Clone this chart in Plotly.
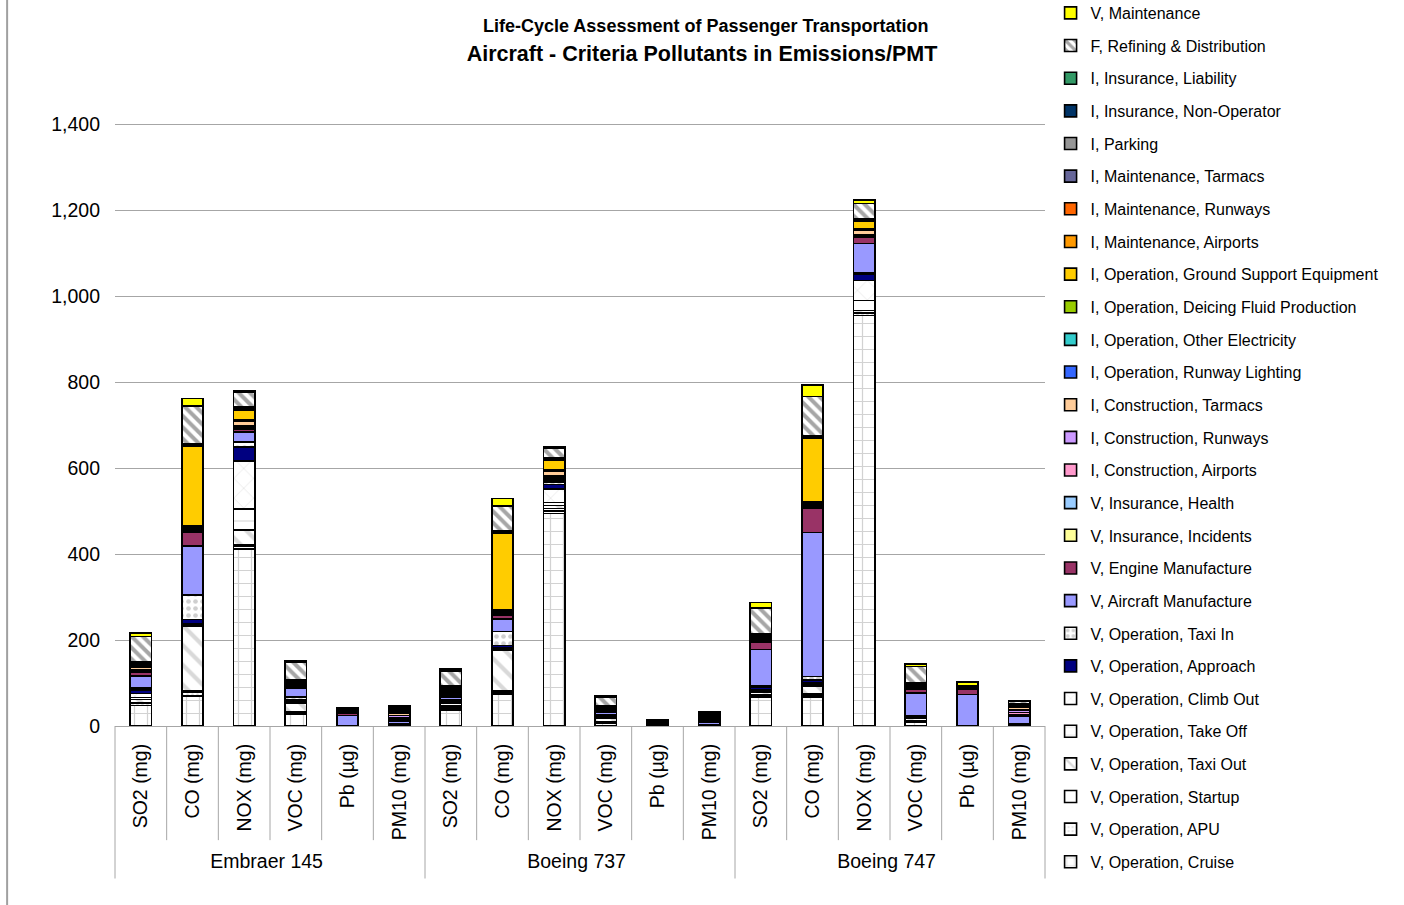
import plotly.graph_objects as go

aircraft = ["Embraer 145", "Boeing 737", "Boeing 747"]
pollutants = ["SO2 (mg)", "CO (mg)", "NOX (mg)", "VOC (mg)", "Pb (µg)", "PM10 (mg)"]

# values per series, ordered: Embraer 145 (6 pollutants), Boeing 737 (6), Boeing 747 (6)
cruise = [48, 70, 412, 28, 0, 2, 36, 74, 494, 6, 0, 2, 68, 68, 955, 10, 0, 3]
apu = [4, 8, 5, 3, 0, 0.5, 2, 5, 6, 2, 0, 0.3, 3, 4, 4, 2, 0, 0.5]
startup = [2, 4, 4, 2, 0, 0.3, 1, 4, 6, 1, 0, 0.2, 2, 3, 3, 1, 0, 0.3]
taxi_out = [8, 149, 35, 20, 0, 0.5, 5, 93, 7, 8, 0, 0.3, 5, 18, 4, 4, 0, 0.5]
take_off = [4, 3, 48, 2, 0, 0.3, 3, 3, 7, 1, 0, 0.2, 3, 4, 24, 1, 0, 0.3]
climb_out = [10, 3, 112, 3, 0, 0.5, 6, 3, 31, 2, 0, 0.3, 4, 4, 46, 1, 0, 0.5]
approach = [8, 11, 33, 3, 0, 0.5, 5, 5, 11, 2, 0, 0.3, 6, 6, 14, 3, 0, 0.5]
taxi_in = [4, 56, 12, 6, 0, 0.3, 3, 33, 5, 3, 0, 0.2, 2, 8, 3, 2, 0, 0.3]
aircraft_manuf = [28, 114, 23, 21, 24, 7, 6, 29, 5, 6, 5, 4, 85, 335, 69, 53, 73, 17]
engine_manuf = [10, 33, 6, 3, 6, 3, 3, 8, 3, 2, 2, 2, 17, 57, 14, 8, 12, 3]
ins_incidents = [0.5, 1, 1, 0.5, 0.2, 0.3, 0.5, 1, 1, 0.5, 0.2, 0.3, 0.5, 1, 1, 0.5, 0.2, 0.3]
ins_health = [1, 2, 2, 1, 0.3, 0.5, 1, 2, 2, 1, 0.3, 0.5, 1, 2, 2, 1, 0.3, 0.5]
constr_airports = [2, 3, 2, 2, 1, 4, 2, 3, 2, 2, 0.5, 3, 2, 3, 2, 2, 1, 5]
constr_runways = [1, 2, 2, 2, 1, 5, 1, 2, 2, 2, 0.5, 3, 1, 2, 2, 2, 1, 6]
constr_tarmacs = [6, 4, 12, 3, 1, 5, 5, 3, 10, 2, 0.5, 3, 4, 3, 10, 2, 1, 5]
runway_lighting = [3, 1, 2, 0.5, 0.3, 2, 3, 1, 2, 0.5, 0.3, 2, 2, 1, 2, 0.5, 0.3, 2]
other_electricity = [2, 1, 1, 0.3, 0.2, 1, 2, 1, 1, 0.3, 0.2, 1, 1, 1, 1, 0.3, 0.2, 1]
deicing = [0.5, 0.5, 0.5, 0.3, 0.1, 0.2, 0.5, 0.5, 0.5, 0.3, 0.1, 0.2, 0.5, 0.5, 0.5, 0.3, 0.1, 0.2]
gse = [3, 185, 23, 4, 1, 3, 3, 177, 22, 3, 1, 2, 3, 148, 17, 3, 1, 3]
maint_airports = [1, 1, 1, 0.5, 0.2, 0.5, 1, 1, 1, 0.5, 0.2, 0.5, 1, 1, 1, 0.5, 0.2, 0.5]
maint_runways = [0.5, 0.5, 0.5, 0.3, 0.1, 0.3, 0.5, 0.5, 0.5, 0.3, 0.1, 0.3, 0.5, 0.5, 0.5, 0.3, 0.1, 0.3]
maint_tarmacs = [0.5, 0.5, 0.5, 0.3, 0.1, 0.3, 0.5, 0.5, 0.5, 0.3, 0.1, 0.3, 0.5, 0.5, 0.5, 0.3, 0.1, 0.3]
parking = [1, 2, 2, 1, 0.5, 1, 1, 2, 2, 1, 0.5, 1, 1, 2, 2, 1, 0.5, 1]
ins_non_operator = [1, 1, 1, 0.5, 0.2, 0.5, 1, 1, 1, 0.5, 0.2, 0.5, 1, 1, 1, 0.5, 0.2, 0.5]
ins_liability = [1, 1, 1, 0.5, 0.2, 0.5, 1, 1, 1, 0.5, 0.2, 0.5, 1, 1, 1, 0.5, 0.2, 0.5]
refining = [58, 88, 35, 40, 3, 5, 35, 58, 22, 20, 2, 4, 60, 92, 36, 39, 2, 5]
maintenance = [8, 17, 4, 4, 2, 2, 4, 18, 3, 2, 1, 1, 12, 27, 8, 5, 9, 2]

series = [
    ("V, Operation, Cruise", cruise),
    ("V, Operation, APU", apu),
    ("V, Operation, Startup", startup),
    ("V, Operation, Taxi Out", taxi_out),
    ("V, Operation, Take Off", take_off),
    ("V, Operation, Climb Out", climb_out),
    ("V, Operation, Approach", approach),
    ("V, Operation, Taxi In", taxi_in),
    ("V, Aircraft Manufacture", aircraft_manuf),
    ("V, Engine Manufacture", engine_manuf),
    ("V, Insurance, Incidents", ins_incidents),
    ("V, Insurance, Health", ins_health),
    ("I, Construction, Airports", constr_airports),
    ("I, Construction, Runways", constr_runways),
    ("I, Construction, Tarmacs", constr_tarmacs),
    ("I, Operation, Runway Lighting", runway_lighting),
    ("I, Operation, Other Electricity", other_electricity),
    ("I, Operation, Deicing Fluid Production", deicing),
    ("I, Operation, Ground Support Equipment", gse),
    ("I, Maintenance, Airports", maint_airports),
    ("I, Maintenance, Runways", maint_runways),
    ("I, Maintenance, Tarmacs", maint_tarmacs),
    ("I, Parking", parking),
    ("I, Insurance, Non-Operator", ins_non_operator),
    ("I, Insurance, Liability", ins_liability),
    ("F, Refining & Distribution", refining),
    ("V, Maintenance", maintenance),
]

solid_colors = {
    "V, Operation, Approach": "#000080",
    "V, Aircraft Manufacture": "#9999FF",
    "V, Engine Manufacture": "#993366",
    "V, Insurance, Incidents": "#FFFF99",
    "V, Insurance, Health": "#99CCFF",
    "I, Construction, Airports": "#FF99CC",
    "I, Construction, Runways": "#CC99FF",
    "I, Construction, Tarmacs": "#FFCC99",
    "I, Operation, Runway Lighting": "#3366FF",
    "I, Operation, Other Electricity": "#33CCCC",
    "I, Operation, Deicing Fluid Production": "#99CC00",
    "I, Operation, Ground Support Equipment": "#FFCC00",
    "I, Maintenance, Airports": "#FF9900",
    "I, Maintenance, Runways": "#FF6600",
    "I, Maintenance, Tarmacs": "#666699",
    "I, Parking": "#969696",
    "I, Insurance, Non-Operator": "#003366",
    "I, Insurance, Liability": "#339966",
    "V, Maintenance": "#FFFF00",
}

patterns = {
    "V, Operation, Cruise": dict(shape="+", fgcolor="#A6A6A6", bgcolor="white", size=13, solidity=0.18),
    "V, Operation, APU": dict(shape=".", fgcolor="#BBBBBB", bgcolor="white", size=5, solidity=0.2),
    "V, Operation, Startup": dict(shape="", fgcolor="white", bgcolor="white"),
    "V, Operation, Taxi Out": dict(shape="\\", fgcolor="#B4B4B4", bgcolor="white", size=14, solidity=0.3),
    "V, Operation, Take Off": dict(shape="-", fgcolor="#C8C8C8", bgcolor="white", size=14, solidity=0.12),
    "V, Operation, Climb Out": dict(shape="x", fgcolor="#C8C8C8", bgcolor="white", size=14, solidity=0.1),
    "V, Operation, Taxi In": dict(shape=".", fgcolor="#A0A0A0", bgcolor="white", size=7, solidity=0.35),
    "F, Refining & Distribution": dict(shape="\\", fgcolor="#4D4D4D", bgcolor="white", size=8, solidity=0.5),
}

x = [[a for a in aircraft for _ in pollutants], [p for _ in aircraft for p in pollutants]]

fig = go.Figure()
n_series = len(series)
for i, (name, vals) in enumerate(series):
    marker = dict(line=dict(color="black", width=1.6))
    if name in solid_colors:
        marker["color"] = solid_colors[name]
    else:
        marker["color"] = "white"
        marker["pattern"] = patterns[name]
    fig.add_trace(go.Bar(name=name, x=x, y=vals, marker=marker,
                         legendgroup=f"g{i}", legendrank=n_series - i))

shapes = []
n = len(aircraft) * len(pollutants)
for i in range(n + 1):
    deep = (i % len(pollutants) == 0)
    shapes.append(dict(type="line", xref="paper", yref="paper", x0=i / n, x1=i / n,
                       y0=0, y1=-0.2525 if deep else -0.189,
                       line=dict(color="#A6A6A6", width=1)))
shapes.append(dict(type="line", xref="paper", yref="paper", x0=-0.116, x1=-0.116,
                   y0=-0.32, y1=1.25, line=dict(color="#A0A0A0", width=2)))

fig.update_layout(
    barmode="stack",
    bargap=0.59,
    width=1404, height=905,
    margin=dict(l=115, r=359, t=122, b=179, autoexpand=False),
    paper_bgcolor="white", plot_bgcolor="white",
    font=dict(family="Liberation Sans, Arial, sans-serif", color="black", size=19.5),
    title=dict(
        text="<b>Aircraft - Criteria Pollutants in Emissions/PMT</b>",
        x=0.5, xref="container", xanchor="center",
        y=1 - 53 / 905, yref="container", yanchor="middle",
        font=dict(size=21.5, color="black"),
    ),
    annotations=[dict(
        text="<b>Life-Cycle Assessment of Passenger Transportation</b>",
        xref="paper", yref="paper", x=(705 - 115) / 930, y=(726 - 26) / 604,
        xanchor="center", yanchor="middle", showarrow=False,
        font=dict(size=18, color="black"),
    )],
    xaxis=dict(type="multicategory", tickangle=-90, showgrid=False, ticks="",
               showline=True, linecolor="#A6A6A6", linewidth=1, showdividers=False,
               tickfont=dict(size=19.5), ticklabelstandoff=9),
    yaxis=dict(range=[0, 1400 * 604 / 602], dtick=200, tickformat=",d", showgrid=True,
               gridcolor="#A6A6A6", gridwidth=1, zeroline=False, showline=False,
               ticks="", tickfont=dict(size=19.5), ticklabelstandoff=14),
    legend=dict(x=1.006, xanchor="left", y=(726 + 4) / 604, yref="paper", yanchor="top",
                traceorder="grouped", tracegroupgap=8.85, maxheight=920,
                font=dict(size=16), bgcolor="rgba(0,0,0,0)"),
    shapes=shapes,
    showlegend=True,
)

fig.write_html("out.html")
